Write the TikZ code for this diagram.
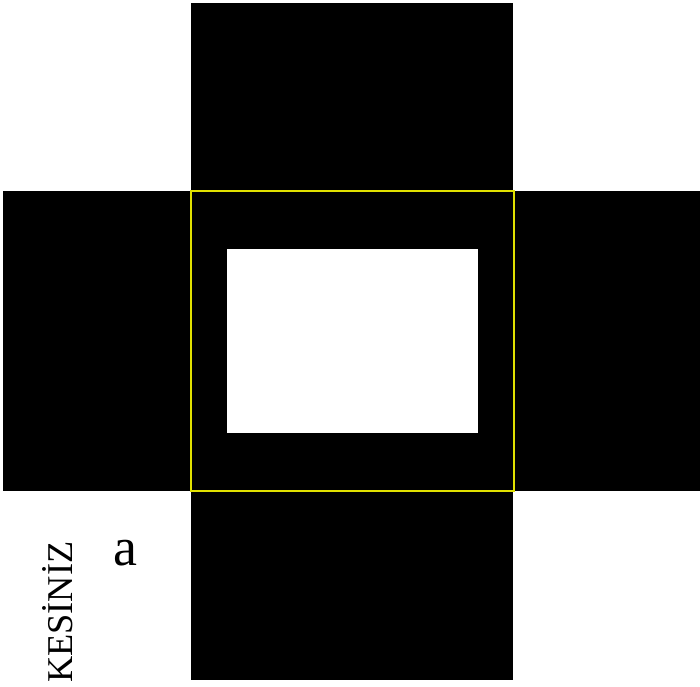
\documentclass[tikz,border=0pt]{standalone}
\usepackage{fontspec}
\setmainfont{Liberation Serif}
\usetikzlibrary{positioning}
\definecolor{frameyellow}{RGB}{225,225,0}

\begin{document}
\begin{tikzpicture}[x=0.03cm,y=-0.03cm,
  flap/.style={fill=black},
  window/.style={fill=white},
  fold/.style={draw=frameyellow,line width=0.06cm},
  label/.style={inner sep=0pt,text=black}]
\useasboundingbox (0,0) rectangle (700,686);
% flaps
\fill[flap] (191,3) rectangle (513,191);
\fill[flap] (3,191) rectangle (191,491);
\fill[flap] (513,191) rectangle (700,491);
\fill[flap] (191,491) rectangle (513,680);
\fill[flap] (191,191) rectangle (513,491);
\fill[window] (227,249) rectangle (478,433);
\draw[fold] (191,191) rectangle (514,491);
% labels
\node[label,rotate=90,anchor=base west,font=\fontsize{31}{31}\selectfont] (cut) at (72,683) {KESİNİZ};
\node[label,anchor=base west,font=\fontsize{46}{46}\selectfont] (side) at (113,565) {a};
\end{tikzpicture}
\end{document}
